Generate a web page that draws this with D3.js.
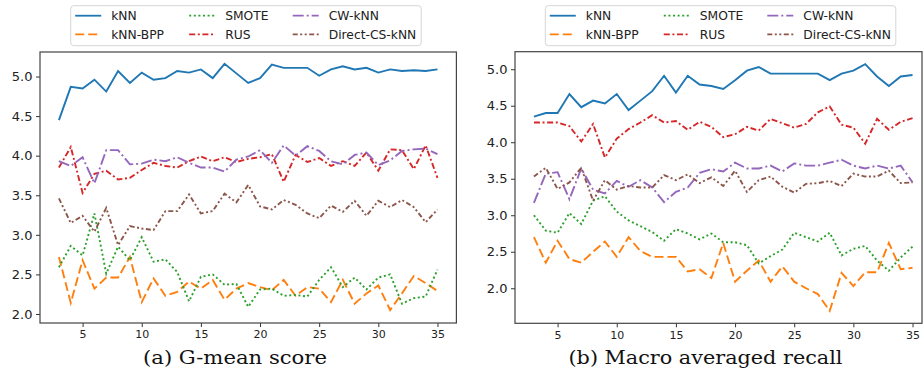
<!DOCTYPE html>
<html>
<head>
<meta charset="utf-8">
<script src="https://cdn.jsdelivr.net/npm/d3@7"></script>
<style>
  body { margin: 0; background: #fff; }
  .tick text { font-family: "DejaVu Sans", sans-serif; fill: #222; }
</style>
</head>
<body>
<svg id="chart" width="924" height="379"></svg>
<script>
// x values: number of neighbours
var ks = [3, 4, 5, 6, 7, 8, 9, 10, 11, 12, 13, 14, 15, 16, 17, 18, 19, 20,
          21, 22, 23, 24, 25, 26, 27, 28, 29, 30, 31, 32, 33, 34, 35];

var methods = ["kNN", "kNN-BPP", "SMOTE", "RUS", "CW-kNN", "Direct-CS-kNN"];

// (a) G-mean score
var gmeanKnn = [4.45, 4.87, 4.85, 4.96, 4.81, 5.07, 4.92, 5.05, 4.96, 4.98, 5.07, 5.05, 5.09, 4.98, 5.16, 5.04, 4.92,
                4.98, 5.15, 5.11, 5.11, 5.11, 5.01, 5.09, 5.13, 5.09, 5.11, 5.05, 5.09, 5.07, 5.08, 5.07, 5.09];
var gmeanBpp = [2.72, 2.14, 2.68, 2.32, 2.46, 2.46, 2.72, 2.15, 2.45, 2.23, 2.28, 2.41, 2.32, 2.43, 2.18, 2.32, 2.39,
                2.34, 2.30, 2.43, 2.23, 2.34, 2.32, 2.15, 2.43, 2.13, 2.26, 2.36, 2.05, 2.26, 2.48, 2.39, 2.29];
var gmeanSmote = [2.59, 2.86, 2.74, 3.27, 2.51, 2.85, 2.68, 2.97, 2.66, 2.69, 2.53, 2.16, 2.47, 2.50, 2.37, 2.38, 2.09,
                  2.31, 2.32, 2.23, 2.24, 2.22, 2.43, 2.59, 2.34, 2.46, 2.31, 2.46, 2.50, 2.13, 2.20, 2.22, 2.56];
var gmeanRus = [3.85, 4.11, 3.53, 3.77, 3.81, 3.70, 3.72, 3.82, 3.91, 3.87, 3.85, 3.93, 3.99, 3.93, 3.98, 3.92, 3.96,
                3.98, 4.02, 3.67, 4.01, 3.92, 3.97, 3.87, 3.93, 3.87, 4.04, 3.81, 4.08, 4.07, 3.83, 4.13, 3.72];
var gmeanCw = [3.93, 3.87, 3.98, 3.65, 4.07, 4.07, 3.89, 3.90, 3.95, 3.93, 3.98, 3.91, 3.85, 3.85, 3.80, 3.95, 3.99,
               4.07, 3.91, 4.13, 4.00, 4.12, 4.06, 3.93, 3.89, 4.01, 4.04, 3.88, 3.94, 4.06, 4.08, 4.09, 4.02];
var gmeanDirect = [3.46, 3.15, 3.24, 3.04, 3.34, 2.87, 3.11, 3.08, 3.06, 3.30, 3.30, 3.51, 3.27, 3.30, 3.52, 3.41, 3.63,
                   3.36, 3.32, 3.44, 3.38, 3.27, 3.21, 3.37, 3.29, 3.43, 3.24, 3.43, 3.35, 3.44, 3.35, 3.16, 3.32];

// (b) Macro averaged recall
var recallKnn = [4.35, 4.40, 4.40, 4.66, 4.48, 4.57, 4.53, 4.66, 4.44, 4.57, 4.70, 4.91, 4.68, 4.91, 4.79, 4.77, 4.73,
                 4.85, 4.98, 5.03, 4.94, 4.94, 4.94, 4.94, 4.94, 4.85, 4.94, 4.98, 5.07, 4.90, 4.77, 4.90, 4.92];
var recallBpp = [2.70, 2.35, 2.65, 2.40, 2.35, 2.50, 2.64, 2.43, 2.70, 2.51, 2.43, 2.43, 2.43, 2.23, 2.26, 2.14, 2.62,
                 2.09, 2.24, 2.38, 2.09, 2.30, 2.09, 2.00, 1.92, 1.69, 2.21, 2.03, 2.22, 2.22, 2.62, 2.26, 2.28];
var recallSmote = [3.00, 2.79, 2.76, 3.03, 2.88, 3.20, 3.26, 3.05, 2.93, 2.85, 2.77, 2.65, 2.81, 2.75, 2.67, 2.75, 2.63,
                   2.63, 2.59, 2.34, 2.44, 2.53, 2.76, 2.70, 2.64, 2.76, 2.45, 2.54, 2.58, 2.38, 2.24, 2.42, 2.57];
var recallRus = [4.27, 4.27, 4.27, 4.22, 4.01, 4.25, 3.79, 4.05, 4.18, 4.27, 4.37, 4.27, 4.29, 4.17, 4.28, 4.21, 4.07,
                 4.11, 4.21, 4.16, 4.32, 4.26, 4.20, 4.25, 4.41, 4.49, 4.24, 4.20, 3.98, 4.32, 4.17, 4.28, 4.33];
var recallCw = [3.17, 3.57, 3.59, 3.22, 3.64, 3.35, 3.30, 3.47, 3.39, 3.48, 3.38, 3.18, 3.32, 3.38, 3.58, 3.63, 3.60,
                3.72, 3.64, 3.64, 3.68, 3.60, 3.71, 3.68, 3.68, 3.72, 3.76, 3.68, 3.64, 3.68, 3.64, 3.68, 3.45];
var recallDirect = [3.53, 3.65, 3.36, 3.45, 3.65, 3.20, 3.48, 3.35, 3.40, 3.38, 3.38, 3.55, 3.48, 3.56, 3.44, 3.52, 3.40,
                    3.61, 3.32, 3.48, 3.53, 3.39, 3.31, 3.43, 3.44, 3.47, 3.40, 3.57, 3.53, 3.53, 3.61, 3.44, 3.45];

var xTicks = [5, 10, 15, 20, 25, 30, 35];
var yTicks = [2.0, 2.5, 3.0, 3.5, 4.0, 4.5, 5.0];
var captions = ["(a) G-mean score", "(b) Macro averaged recall"];

// matplotlib tab10 colours and line styles
var styles = [
    { color: "#1f77b4", dash: null },
    { color: "#ff7f0e", dash: "9,4" },
    { color: "#2ca02c", dash: "2,2.6" },
    { color: "#d62728", dash: "6,2.6,2,2.6" },
    { color: "#9467bd", dash: "11,3,2,3" },
    { color: "#8c564b", dash: "5,2.5,2,2.5,2,2.5" }
];

var svg = d3.select("#chart");

var panels = [
    { series: [gmeanKnn, gmeanBpp, gmeanSmote, gmeanRus, gmeanCw, gmeanDirect],
      xDomain: [1.4, 36.6], xRange: [40, 456.4],
      yDomain: [1.886, 5.31], yRange: [323, 52],
      legendX: 70.7, captionX: 235, captionLen: 184 },
    { series: [recallKnn, recallBpp, recallSmote, recallRus, recallCw, recallDirect],
      xDomain: [1.4, 35.8], xRange: [515, 922],
      yDomain: [1.52, 5.24], yRange: [323.3, 51.7],
      legendX: 545.3, captionX: 705.5, captionLen: 274 }
];

panels.forEach(function(p, pi) {
    var x = d3.scaleLinear().domain(p.xDomain).range(p.xRange);
    var y = d3.scaleLinear().domain(p.yDomain).range(p.yRange);
    var g = svg.append("g");

    var line = d3.line()
        .x(function(d, i) { return x(ks[i]); })
        .y(function(d) { return y(d); });

    g.selectAll(".series")
        .data(p.series)
        .enter()
        .append("path")
        .attr("class", "series")
        .attr("fill", "none")
        .attr("stroke", function(d, i) { return styles[i].color; })
        .attr("stroke-width", 1.9)
        .attr("stroke-dasharray", function(d, i) { return styles[i].dash; })
        .attr("d", line);

    // axes
    var bottom = d3.max(p.yRange), left = d3.min(p.xRange);
    var xAxis = g.append("g")
        .attr("transform", "translate(0," + bottom + ")")
        .call(d3.axisBottom(x).tickValues(xTicks).tickSize(4).tickPadding(3.5));
    xAxis.selectAll("text").style("font-size", "11px");

    var yAxis = g.append("g")
        .attr("transform", "translate(" + left + ",0)")
        .call(d3.axisLeft(y).tickValues(yTicks).tickSize(4).tickPadding(3.5).tickFormat(d3.format(".1f")));
    yAxis.selectAll("text").style("font-size", "13px");

    [xAxis, yAxis].forEach(function(a) {
        a.select(".domain").remove();
        a.selectAll("line").attr("stroke", "#333").attr("stroke-width", 1);
    });

    // frame
    g.append("rect")
        .attr("x", left)
        .attr("y", d3.min(p.yRange))
        .attr("width", d3.max(p.xRange) - left)
        .attr("height", bottom - d3.min(p.yRange))
        .attr("fill", "none")
        .attr("stroke", "#444")
        .attr("stroke-width", 1.2);

    // legend, 3 columns x 2 rows
    var leg = g.append("g").attr("transform", "translate(" + p.legendX + ",5.7)");
    leg.append("rect")
        .attr("width", 350.5)
        .attr("height", 40)
        .attr("rx", 3)
        .attr("fill", "#fff")
        .attr("fill-opacity", 0.8)
        .attr("stroke", "#d6d6d6")
        .attr("stroke-width", 1);

    var colX = [4.5, 118.5, 222];
    var items = leg.selectAll(".item")
        .data(methods)
        .enter()
        .append("g")
        .attr("class", "item")
        .attr("transform", function(d, i) {
            return "translate(" + colX[Math.floor(i / 2)] + "," + (10 + (i % 2) * 18.6) + ")";
        });
    items.append("line")
        .attr("x1", 0)
        .attr("x2", 26)
        .attr("stroke", function(d, i) { return styles[i].color; })
        .attr("stroke-width", 1.8)
        .attr("stroke-dasharray", function(d, i) { return styles[i].dash; });
    items.append("text")
        .attr("x", 36)
        .attr("y", 4.5)
        .style("font-family", "DejaVu Sans, sans-serif")
        .style("font-size", "12.3px")
        .attr("fill", "#222")
        .text(function(d) { return d; });

    // caption under the panel
    g.append("text")
        .attr("x", p.captionX)
        .attr("y", 364)
        .attr("text-anchor", "middle")
        .attr("textLength", p.captionLen)
        .attr("lengthAdjust", "spacingAndGlyphs")
        .style("font-family", "DejaVu Serif, serif")
        .style("font-size", "19px")
        .attr("fill", "#111")
        .text(captions[pi]);
});
</script>
</body>
</html>
